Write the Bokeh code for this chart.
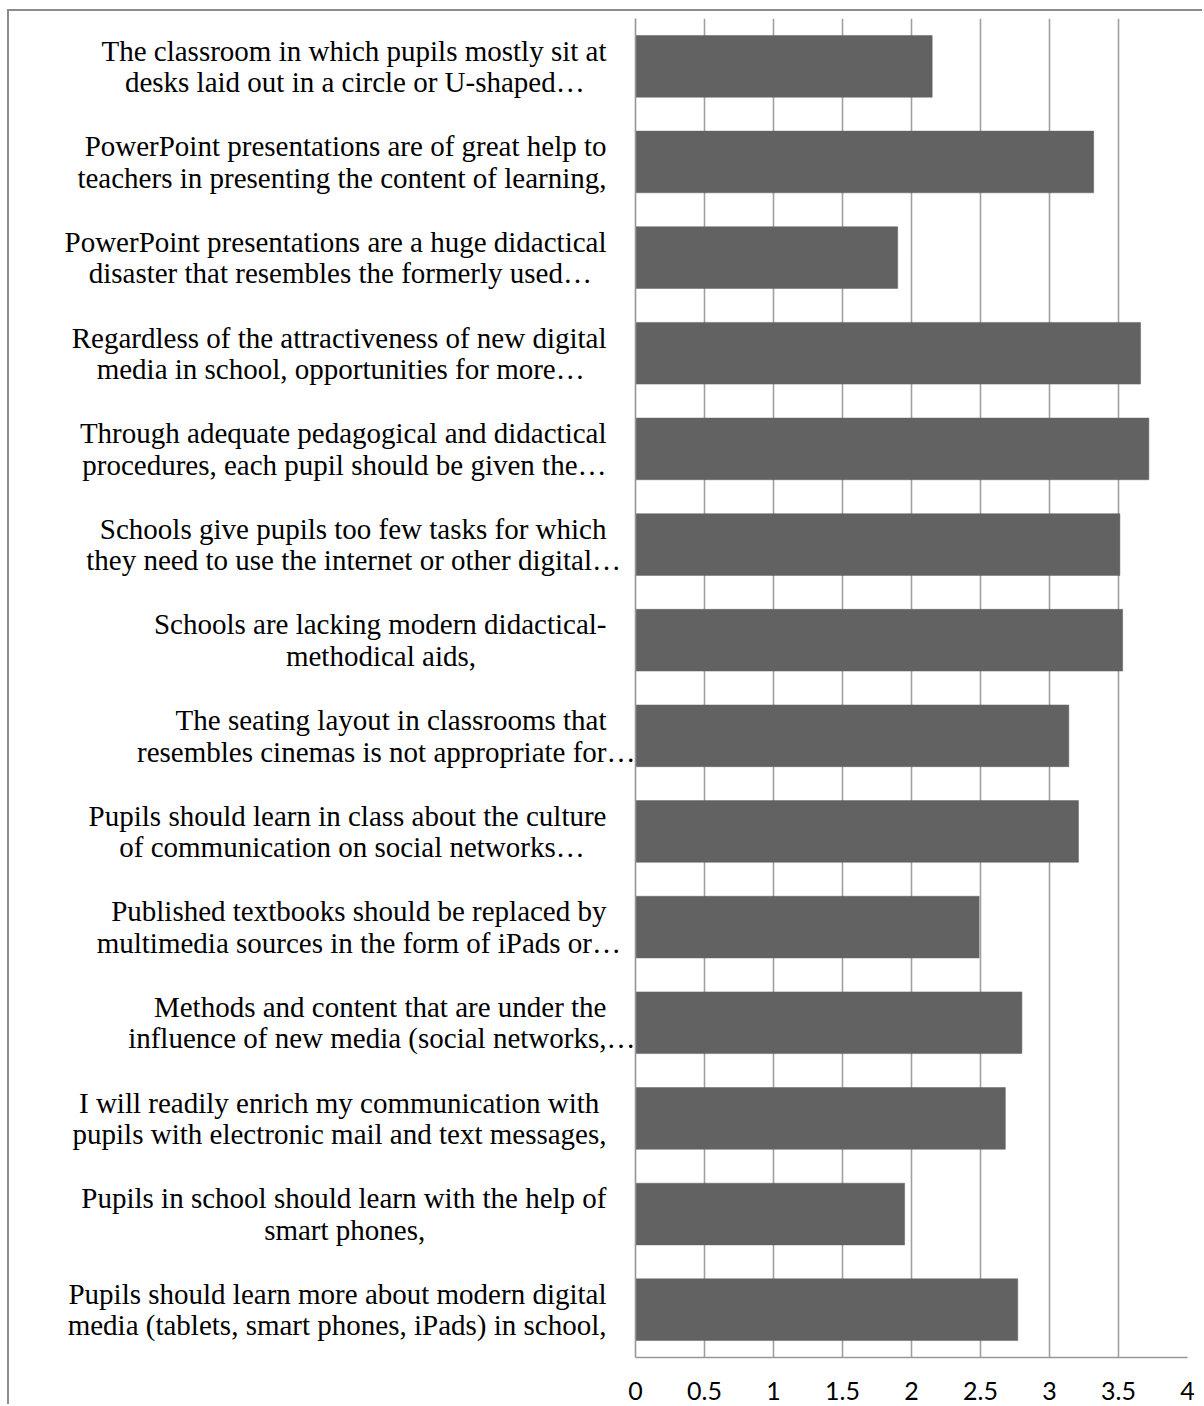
from bokeh.plotting import figure
from bokeh.models import ColumnDataSource, FactorRange, Range1d, FixedTicker
from bokeh.embed import file_html
from bokeh.resources import INLINE

# ---------------- data ----------------
categories = [
    "The classroom in which pupils mostly sit at\ndesks laid out in a circle or U-shaped\u2026",
    "PowerPoint presentations are of great help to\nteachers in presenting the content of learning,",
    "PowerPoint presentations are a huge didactical\ndisaster that resembles the formerly used\u2026",
    "Regardless of the attractiveness of new digital\nmedia in school, opportunities for more\u2026",
    "Through adequate pedagogical and didactical\nprocedures, each pupil should be given the\u2026",
    "Schools give pupils too few tasks for which\nthey need to use the internet or other digital\u2026",
    "Schools are lacking modern didactical-\nmethodical aids,",
    "The seating layout in classrooms that\nresembles cinemas is not appropriate for\u2026",
    "Pupils should learn in class about the culture\nof communication on social networks\u2026",
    "Published textbooks should be replaced by\nmultimedia sources in the form of iPads or\u2026",
    "Methods and content that are under the\ninfluence of new media (social networks,\u2026",
    "I will readily enrich my communication with\npupils with electronic mail and text messages,",
    "Pupils in school should learn with the help of\nsmart phones,",
    "Pupils should learn more about modern digital\nmedia (tablets, smart phones, iPads) in school,",
]
values = [2.15, 3.32, 1.90, 3.66, 3.72, 3.51, 3.53, 3.14, 3.21, 2.49, 2.80, 2.68, 1.95, 2.77]
x_ticks = [0, 0.5, 1, 1.5, 2, 2.5, 3, 3.5, 4]
x_tick_labels = ["0", "0.5", "1", "1.5", "2", "2.5", "3", "3.5", "4"]

# ---------------- label layout (Times metrics, 1/1000 em) ----------------
W = dict(zip("abcdefghijklmnopqrstuvwxyz",
             [444, 500, 444, 500, 444, 333, 500, 500, 278, 278, 500, 278, 778,
              500, 500, 500, 500, 333, 389, 278, 500, 500, 722, 500, 500, 444]))
W.update(dict(zip("ABCDEFGHIJKLMNOPQRSTUVWXYZ",
                  [722, 667, 667, 722, 611, 556, 722, 722, 333, 389, 722, 611, 889,
                   722, 722, 556, 722, 667, 556, 611, 722, 722, 944, 722, 722, 611])))
W.update({" ": 250, ",": 250, ".": 250, "-": 333, "(": 333, ")": 333, "\u2026": 1000})

LABEL_FS = 29
SP = 0.25 * LABEL_FS          # width of a no-break space
NBSP = "\u00a0"
BLOCK_GAP = 26                # widest line ends this far left of the value axis


def text_w(s):
    return sum(W.get(c, 500) for c in s) / 1000.0 * LABEL_FS


def layout_label(label):
    """Centre the lines of a label (Excel style) by padding with no-break spaces."""
    lines = label.split("\n")
    eff = []
    for line in lines:
        if line.endswith("\u2026"):
            eff.append(text_w(line[:-1].rsplit(" ", 1)[0]))
        else:
            eff.append(text_w(line))
    block = max(eff)
    centre = -BLOCK_GAP - block / 2.0     # relative to the axis line
    rights, totals = [], []
    for line in lines:
        w = text_w(line)
        gap = -(centre + w / 2.0)
        r = max(0, int(round(gap / SP)))
        rights.append(r)
        totals.append(w + r * SP)
    T = max(totals)
    out = []
    for line, r, t in zip(lines, rights, totals):
        l = max(0, int(round((T - t) / SP)))
        out.append(NBSP * l + line + NBSP * r)
    return "\n".join(out)


factors = [layout_label(c) for c in categories]

src = ColumnDataSource(dict(cat=factors, val=values))

p = figure(width=1195, height=1395, output_backend="svg", toolbar_location=None,
           y_range=FactorRange(*reversed(factors)), x_range=Range1d(0, 4),
           min_border_left=626, min_border_right=17,
           min_border_top=7, min_border_bottom=49)
p.outline_line_color = None
p.background_fill_color = "white"
p.border_fill_color = "white"
p.styles = {"margin-left": "7px", "margin-top": "9px",
            "border-left": "2px solid #8c8c8c", "border-top": "2px solid #8c8c8c"}

p.hbar(y="cat", right="val", left=0, height=0.645, source=src,
       fill_color="#626262", line_color="#626262", line_width=0.5)

p.ygrid.grid_line_color = None
p.xgrid.ticker = FixedTicker(ticks=x_ticks)
p.xgrid.grid_line_color = "#a0a0a0"
p.xgrid.grid_line_width = 1.6

ax = p.xaxis[0]
ax.ticker = FixedTicker(ticks=x_ticks)
ax.major_label_overrides = {t: l for t, l in zip(x_ticks, x_tick_labels)}
ax.major_tick_in = 0
ax.major_tick_out = 0
ax.minor_tick_line_color = None
ax.axis_line_color = "#969696"
ax.axis_line_width = 1.6
ax.major_label_text_font = "Lato"
ax.major_label_text_font_size = "25px"
ax.major_label_text_color = "#000000"
ax.major_label_standoff = 24

ay = p.yaxis[0]
ay.major_tick_in = 0
ay.major_tick_out = 0
ay.minor_tick_line_color = None
ay.axis_line_color = "#969696"
ay.axis_line_width = 1.6
ay.major_label_standoff = 0
ay.major_label_text_font = "Liberation Serif"
ay.major_label_text_font_size = f"{LABEL_FS}px"
ay.major_label_text_color = "#000000"
ay.major_label_text_line_height = 0.98

open("out.html", "w").write(file_html(p, INLINE))
